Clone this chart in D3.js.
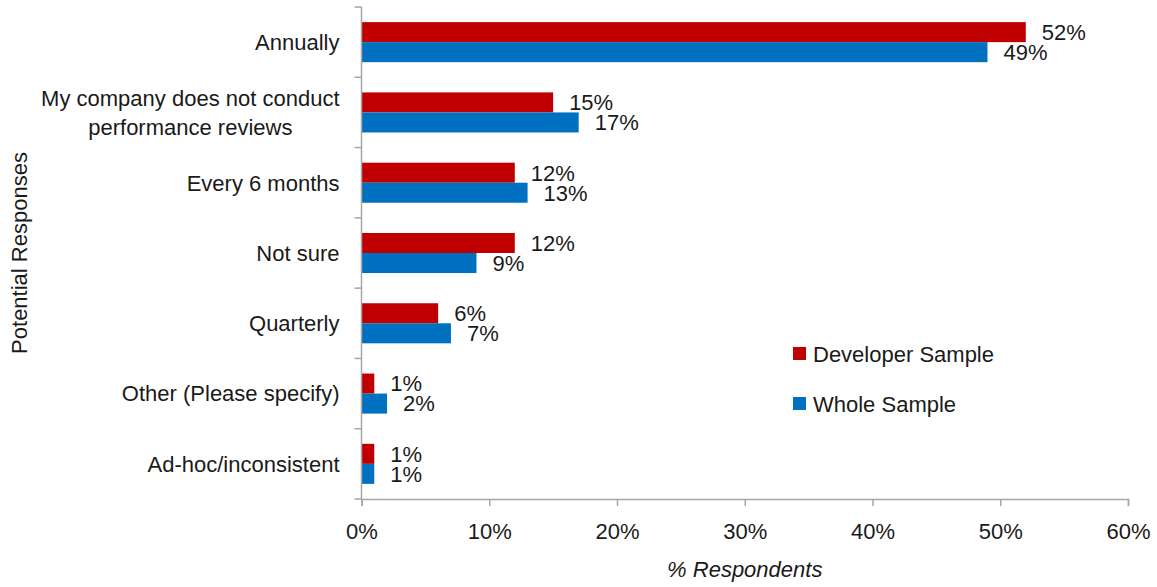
<!DOCTYPE html>
<html>
<head>
<meta charset="utf-8">
<script src="https://cdn.jsdelivr.net/npm/d3@7"></script>
<style>
    body { margin: 0; background: #fff; }
    text { font-family: "Liberation Sans Narrow", "Arial Narrow", "Liberation Sans", Arial, sans-serif; fill: #1a1a1a; }
</style>
</head>
<body>
<div id="chart"></div>
<script>
const categories = [
    ["Annually"],
    ["My company does not conduct", "performance reviews"],
    ["Every 6 months"],
    ["Not sure"],
    ["Quarterly"],
    ["Other (Please specify)"],
    ["Ad-hoc/inconsistent"],
]
const developerValues = [52, 15, 12, 12, 6, 1, 1]
const wholeValues = [49, 17, 13, 9, 7, 2, 1]
const seriesNames = ["Developer Sample", "Whole Sample"]
const seriesColors = ["#c00000", "#0070c0"]
const xTicks = [0, 10, 20, 30, 40, 50, 60]

const fontSize = "22px"

let dimensions = {
    width: 1157,
    height: 587,
    margin: {
        top: 7,
        right: 29,
        bottom: 88,
        left: 361.5,
    },
}
dimensions.boundedWidth = dimensions.width - dimensions.margin.left - dimensions.margin.right
dimensions.boundedHeight = dimensions.height - dimensions.margin.top - dimensions.margin.bottom

const wrapper = d3.select("#chart").append("svg")
    .attr("width", dimensions.width)
    .attr("height", dimensions.height)

const bounds = wrapper.append("g")
    .attr("transform", `translate(${dimensions.margin.left},${dimensions.margin.top})`)

// scales
const xScale = d3.scaleLinear()
    .domain([0, 60])
    .range([0, dimensions.boundedWidth])

const yScale = d3.scaleBand()
    .domain(d3.range(categories.length))
    .range([0, dimensions.boundedHeight])
    .paddingInner(0.43)
    .paddingOuter(0.215)

const subScale = d3.scaleBand()
    .domain([0, 1])
    .range([0, yScale.bandwidth()])

const rows = categories.map((c, i) => ({
    label: c,
    values: [developerValues[i], wholeValues[i]],
}))

// bars
const groups = bounds.selectAll(".row")
    .data(rows)
    .enter().append("g")
    .attr("class", "row")
    .attr("transform", (d, i) => `translate(0,${yScale(i)})`)

groups.selectAll("rect")
    .data(d => d.values)
    .enter().append("rect")
    .attr("x", 0)
    .attr("y", (d, j) => subScale(j))
    .attr("width", d => xScale(d))
    .attr("height", subScale.bandwidth())
    .attr("fill", (d, j) => seriesColors[j])

groups.selectAll(".value")
    .data(d => d.values)
    .enter().append("text")
    .attr("class", "value")
    .attr("x", d => xScale(d) + 16)
    .attr("y", (d, j) => subScale(j) + subScale.bandwidth() / 2)
    .attr("dy", "0.36em")
    .style("font-size", fontSize)
    .text(d => d + "%")

// axes
const axisColor = "#a6a6a6"
const stepY = dimensions.boundedHeight / categories.length

const yAxis = bounds.append("g")
yAxis.append("line")
    .attr("x1", 0).attr("x2", 0)
    .attr("y1", 0).attr("y2", dimensions.boundedHeight)
    .attr("stroke", axisColor)
    .attr("stroke-width", 1.5)
yAxis.selectAll(".ytick")
    .data(d3.range(categories.length + 1))
    .enter().append("line")
    .attr("x1", -7).attr("x2", 0)
    .attr("y1", i => i * stepY).attr("y2", i => i * stepY)
    .attr("stroke", axisColor)
    .attr("stroke-width", 1.5)

const catLabels = yAxis.selectAll(".cat")
    .data(rows)
    .enter().append("text")
    .attr("class", "cat")
    .style("font-size", fontSize)
    .attr("text-anchor", "middle")
    .attr("transform", (d, i) => `translate(0,${yScale(i) + yScale.bandwidth() / 2})`)

catLabels.each(function (d) {
    const t = d3.select(this)
    const n = d.label.length
    d.label.forEach((line, k) => {
        t.append("tspan")
            .attr("x", 0)
            .attr("y", (k - (n - 1) / 2) * 29)
            .attr("dy", "0.36em")
            .text(line)
    })
    const w = this.getBBox().width
    t.selectAll("tspan").attr("x", -22 - w / 2)
})

const xAxisGenerator = d3.axisBottom(xScale)
    .tickValues(xTicks)
    .tickFormat(d => d + "%")
    .tickSize(7)
    .tickPadding(17)

const xAxis = bounds.append("g")
    .attr("transform", `translate(0,${dimensions.boundedHeight})`)
    .call(xAxisGenerator)
xAxis.select(".domain").attr("stroke", axisColor).attr("stroke-width", 1.5)
xAxis.selectAll(".tick line").attr("stroke", axisColor).attr("stroke-width", 1.5)
xAxis.selectAll(".tick text")
    .style("font-size", fontSize)
    .attr("fill", "#1a1a1a")
    .style("font-family", "'Liberation Sans Narrow', 'Arial Narrow', 'Liberation Sans', Arial, sans-serif")

// axis titles
wrapper.append("text")
    .attr("x", dimensions.margin.left + xScale(30))
    .attr("y", 577)
    .attr("text-anchor", "middle")
    .style("font-size", fontSize)
    .style("font-style", "italic")
    .text("% Respondents")

wrapper.append("text")
    .attr("transform", `translate(27,${dimensions.margin.top + dimensions.boundedHeight / 2}) rotate(-90)`)
    .attr("text-anchor", "middle")
    .style("font-size", fontSize)
    .text("Potential Responses")

// legend
const legend = wrapper.append("g")
    .attr("transform", "translate(793,347)")
const legendItems = legend.selectAll("g")
    .data(seriesNames)
    .enter().append("g")
    .attr("transform", (d, i) => `translate(0,${i * 50})`)
legendItems.append("rect")
    .attr("width", 13)
    .attr("height", 13)
    .attr("fill", (d, i) => seriesColors[i])
legendItems.append("text")
    .attr("x", 20)
    .attr("y", 7)
    .attr("dy", "0.36em")
    .style("font-size", fontSize)
    .text(d => d)
</script>
</body>
</html>
